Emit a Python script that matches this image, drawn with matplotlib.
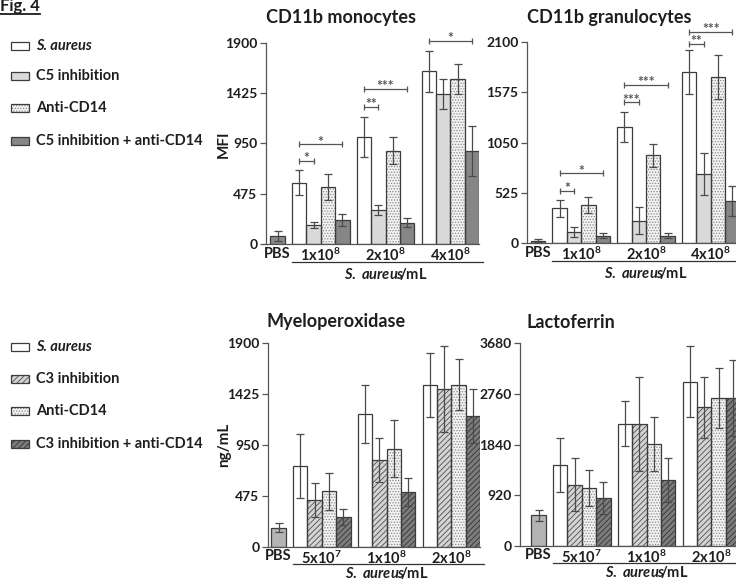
import numpy as np
import matplotlib
matplotlib.use("Agg")
import matplotlib.pyplot as plt
from matplotlib.patches import Rectangle
from matplotlib.lines import Line2D

plt.rcParams['font.family'] = ['Lato', 'DejaVu Sans']
plt.rcParams['font.weight'] = 'bold'
plt.rcParams['mathtext.fontset'] = 'custom'
plt.rcParams['mathtext.rm'] = 'Lato:bold'
plt.rcParams['mathtext.it'] = 'Lato:bold:italic'
plt.rcParams['mathtext.bf'] = 'Lato:bold'
plt.rcParams['hatch.linewidth'] = 0.6

# ---- data ----
top_groups = ['1x10$^{8}$', '2x10$^{8}$', '4x10$^{8}$']
bot_groups = ['5x10$^{7}$', '1x10$^{8}$', '2x10$^{8}$']

mono_pbs, mono_pbs_err = 78, 50
mono_sa = [581, 1014, 1630]
mono_sa_err = [115, 190, 190]
mono_c5 = [182, 323, 1419]
mono_c5_err = [30, 50, 140]
mono_cd14 = [540, 882, 1561]
mono_cd14_err = [120, 125, 140]
mono_both = [229, 204, 882]
mono_both_err = [55, 45, 235]

gran_pbs, gran_pbs_err = 28, 17
gran_sa = [364, 1211, 1784]
gran_sa_err = [90, 155, 228]
gran_c5 = [115, 233, 722]
gran_c5_err = [52, 140, 218]
gran_cd14 = [399, 916, 1732]
gran_cd14_err = [83, 120, 230]
gran_both = [80, 80, 437]
gran_both_err = [26, 24, 155]

mpo_pbs, mpo_pbs_err = 178, 42
mpo_sa = [754, 1237, 1514]
mpo_sa_err = [295, 270, 300]
mpo_c3 = [436, 807, 1476]
mpo_c3_err = [162, 204, 400]
mpo_cd14 = [517, 916, 1514]
mpo_cd14_err = [176, 265, 235]
mpo_both = [280, 511, 1221]
mpo_both_err = [73, 133, 252]

lf_pbs, lf_pbs_err = 552, 106
lf_sa = [1461, 2219, 2977]
lf_sa_err = [490, 406, 646]
lf_c3 = [1110, 2219, 2516]
lf_c3_err = [485, 852, 558]
lf_cd14 = [1049, 1843, 2680]
lf_cd14_err = [336, 491, 549]
lf_both = [867, 1194, 2680]
lf_both_err = [291, 397, 688]

# significance: (group, bar a, bar b, height, stars)
mono_sig = [(0, 0, 1, 785, '*'), (0, 0, 3, 945, '*'), (1, 0, 1, 1297, '**'),
            (1, 0, 3, 1467, '***'), (2, 0, 3, 1916, '*')]
gran_sig = [(0, 0, 1, 548, '*'), (0, 0, 3, 732, '*'), (1, 0, 1, 1469, '***'),
            (1, 0, 3, 1652, '***'), (2, 0, 1, 2078, '**'), (2, 0, 3, 2203, '***')]

# ---- styles ----
EDGE = '#3c3c3c'
ERR = '#4a4a4a'
TXT = '#1e1e1e'
top_styles = [dict(fc='white', hatch=None, hc=None),
              dict(fc='#dadada', hatch=None, hc=None),
              dict(fc='#f2f2f2', hatch='......', hc='#8a8a8a'),
              dict(fc='#868686', hatch=None, hc=None)]
bot_styles = [dict(fc='white', hatch=None, hc=None),
              dict(fc='#d4d4d4', hatch='//////', hc='#505050'),
              dict(fc='#f2f2f2', hatch='......', hc='#8a8a8a'),
              dict(fc='#7c7c7c', hatch='//////', hc='#333333')]
top_labels = ['S. aureus', 'C5 inhibition', 'Anti-CD14', 'C5 inhibition + anti-CD14']
bot_labels = ['S. aureus', 'C3 inhibition', 'Anti-CD14', 'C3 inhibition + anti-CD14']

W, H = 736, 582
fig = plt.figure(figsize=(W / 100, H / 100), dpi=100)


def add_axes_px(x_axis, x_right, y_zero, y_top):
    return fig.add_axes([x_axis / W, 1 - y_zero / H, (x_right - x_axis) / W,
                         (y_zero - y_top) / H])


def draw_bar(ax, x, h, err, st):
    ax.bar(x, h, width=1.0, color=st['fc'], edgecolor=st['hc'] or st['fc'],
           hatch=st['hatch'], linewidth=0, zorder=2)
    ax.bar(x, h, width=1.0, color='none', edgecolor=EDGE, linewidth=0.9, zorder=3)
    ax.errorbar(x, h, yerr=err, fmt='none', ecolor=ERR, elinewidth=0.9,
                capsize=3, capthick=0.9, zorder=4)


def panel(ax, pbs, pbs_err, pbs_color, series, errs, styles, groups, ymax, ticks,
          xleft, sig=None, unit_y=29.5):
    draw_bar(ax, 0, pbs, pbs_err, dict(fc=pbs_color, hatch=None, hc=None))
    for k, (vals, ev) in enumerate(zip(series, errs)):
        for g in range(3):
            draw_bar(ax, 1.5 + 4.5 * g + k, vals[g], ev[g], styles[k])
    ax.set_xlim(xleft, 14)
    ax.set_ylim(0, ymax)
    ax.set_yticks(ticks)
    ax.set_yticklabels([str(t) for t in ticks], fontsize=10, fontweight='bold',
                       color=TXT)
    centers = [0] + [3.0 + 4.5 * g for g in range(3)]
    ax.set_xticks(centers)
    ax.set_xticklabels(['PBS'] + groups, fontsize=10.5, fontweight='bold', color=TXT)
    ax.tick_params(axis='x', length=0, pad=2)
    ax.tick_params(axis='y', length=4, width=0.9, color='#555555', pad=2)
    for s in ['top', 'right']:
        ax.spines[s].set_visible(False)
    for s in ['left', 'bottom']:
        ax.spines[s].set_color('#555555')
        ax.spines[s].set_linewidth(0.9)
    tr = ax.get_xaxis_transform()
    hpx = ax.get_position().height * H
    ax.plot([1.0, 14.3], [-17.5 / hpx] * 2, color='#333333', lw=0.9,
            transform=tr, clip_on=False)
    ax.text(7.5, -unit_y / hpx, '$S.\\ aureus\\!\\!$/mL', transform=tr,
            ha='center', va='center', fontsize=10.5, fontweight='bold', color=TXT)
    if sig:
        for g, a, b, y, s in sig:
            xa = 1.5 + 4.5 * g + a
            xb = 1.5 + 4.5 * g + b
            ax.plot([xa, xb], [y, y], color='#555555', lw=0.9, clip_on=False)
            ax.plot([xa, xb], [y, y], ls='none', marker='|', ms=5, mew=0.9,
                    color='#555555', clip_on=False)
            ax.annotate(s, ((xa + xb) / 2, y), xytext=(0, -2.5),
                        textcoords='offset points', ha='center', va='bottom',
                        fontsize=10, color='#555555', annotation_clip=False)


ax1 = add_axes_px(265.7, 479.1, 244.3, 42.7)
panel(ax1, mono_pbs, mono_pbs_err, '#8a8a8a',
      [mono_sa, mono_c5, mono_cd14, mono_both],
      [mono_sa_err, mono_c5_err, mono_cd14_err, mono_both_err],
      top_styles, top_groups, 1900, [0, 475, 950, 1425, 1900], -0.82, mono_sig)

ax2 = add_axes_px(526.7, 739.6, 243.3, 41.7)
panel(ax2, gran_pbs, gran_pbs_err, '#8a8a8a',
      [gran_sa, gran_c5, gran_cd14, gran_both],
      [gran_sa_err, gran_c5_err, gran_cd14_err, gran_both_err],
      top_styles, top_groups, 2100, [0, 525, 1050, 1575, 2100], -0.785, gran_sig)

ax3 = add_axes_px(267.7, 480.1, 546.7, 343.3)
panel(ax3, mpo_pbs, mpo_pbs_err, '#b4b4b4',
      [mpo_sa, mpo_c3, mpo_cd14, mpo_both],
      [mpo_sa_err, mpo_c3_err, mpo_cd14_err, mpo_both_err],
      bot_styles, bot_groups, 1900, [0, 475, 950, 1425, 1900], -0.75, unit_y=26.5)

ax4 = add_axes_px(520.0, 740.1, 545.7, 343.3)
panel(ax4, lf_pbs, lf_pbs_err, '#b4b4b4',
      [lf_sa, lf_c3, lf_cd14, lf_both],
      [lf_sa_err, lf_c3_err, lf_cd14_err, lf_both_err],
      bot_styles, bot_groups, 3680, [0, 920, 1840, 2760, 3680], -1.285, unit_y=26.5)

# y-axis titles
fig.text(224 / W, 1 - 144 / H, 'MFI', rotation=90, ha='center', va='center',
         fontsize=11, fontweight='bold', color=TXT)
fig.text(224 / W, 1 - 445 / H, 'ng/mL', rotation=90, ha='center', va='center',
         fontsize=11, fontweight='bold', color=TXT)

# titles
for x, y, t in [(266, 17, 'CD11b monocytes'), (527, 18, 'CD11b granulocytes'),
                (267, 321, 'Myeloperoxidase'), (527, 322, 'Lactoferrin')]:
    fig.text(x / W, 1 - y / H, t, ha='left', va='center', fontsize=13,
             fontweight='bold', color=TXT)


# legends
def legend(ys, labels, styles):
    for y, lab, st in zip(ys, labels, styles):
        r = Rectangle((11 / W, 1 - (y + 4) / H), 18 / W, 8 / H,
                      transform=fig.transFigure, facecolor=st['fc'],
                      edgecolor=st['hc'] or st['fc'], hatch=st['hatch'], lw=0)
        fig.add_artist(r)
        r2 = Rectangle((11 / W, 1 - (y + 4) / H), 18 / W, 8 / H,
                       transform=fig.transFigure, facecolor='none',
                       edgecolor=EDGE, lw=0.9)
        fig.add_artist(r2)
        style = 'italic' if lab == 'S. aureus' else 'normal'
        fig.text(36 / W, 1 - y / H, lab, ha='left', va='center', fontsize=10.5,
                 fontweight='bold', style=style, color=TXT)


legend([46, 76, 108, 141], top_labels, top_styles)
legend([347, 379, 411, 444], bot_labels, bot_styles)

# figure label
fig.text(0 / W, 1 - 11.5 / H, 'Fig. 4', ha='left', va='baseline', fontsize=12,
         fontweight='bold', color=TXT)
fig.add_artist(Line2D([0, 40 / W], [1 - 14 / H] * 2, transform=fig.transFigure,
                      color=TXT, lw=1.3))

fig.savefig('out.png', dpi=100)
